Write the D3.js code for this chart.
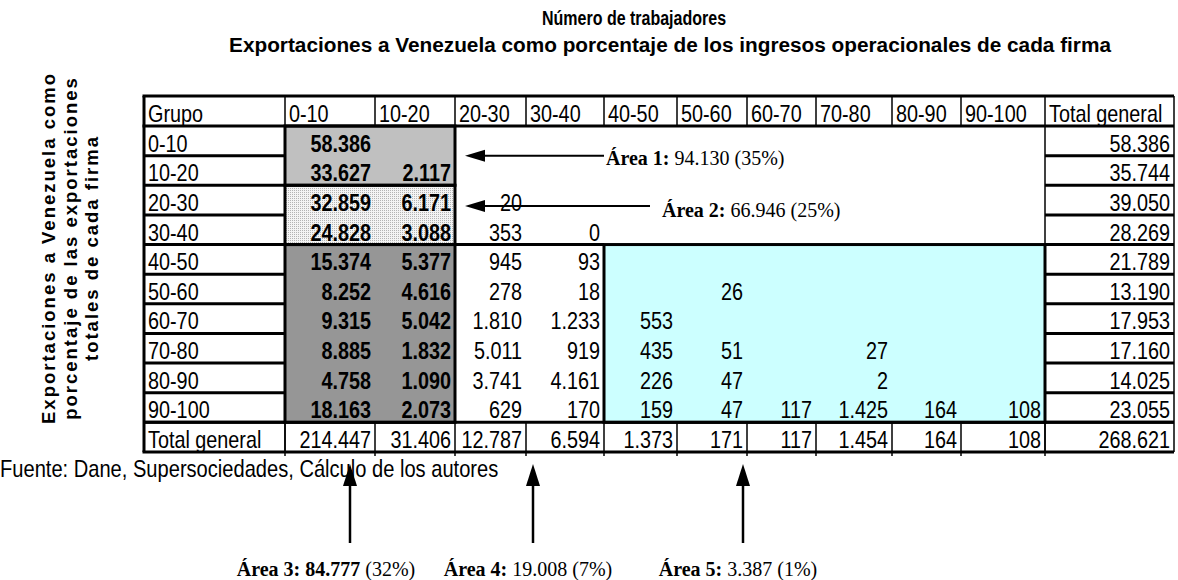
<!DOCTYPE html>
<meta charset="utf-8">
<title>Exportaciones a Venezuela - numero de trabajadores</title>
<style>
body {
  margin: 0px;
  background: #fff;
}
svg {
  display: block;
  background-color: #fff;
}
</style>
<script src="https://d3js.org/d3.v7.min.js"></script>
<body>
<script>
var rowGroups = ["0-10", "10-20", "20-30", "30-40", "40-50", "50-60", "60-70", "70-80", "80-90", "90-100"];
var colGroups = ["0-10", "10-20", "20-30", "30-40", "40-50", "50-60", "60-70", "70-80", "80-90", "90-100"];

// one list per row group, index = column group, null = empty cell
var cellValues = [
  [58386],
  [33627, 2117],
  [32859, 6171, 20],
  [24828, 3088, 353, 0],
  [15374, 5377, 945, 93],
  [8252, 4616, 278, 18, null, 26],
  [9315, 5042, 1810, 1233, 553],
  [8885, 1832, 5011, 919, 435, 51, null, 27],
  [4758, 1090, 3741, 4161, 226, 47, null, 2],
  [18163, 2073, 629, 170, 159, 47, 117, 1425, 164, 108]
];
var rowTotals = [58386, 35744, 39050, 28269, 21789, 13190, 17953, 17160, 14025, 23055];
var colTotals = [214447, 31406, 12787, 6594, 1373, 171, 117, 1454, 164, 108];
var grandTotal = 268621;

var titleLines = ["Número de trabajadores",
  "Exportaciones a Venezuela como porcentaje de los ingresos operacionales de cada firma"];
var sideLabel = ["Exportaciones a Venezuela como", "porcentaje de las exportaciones", "totales de cada firma"];
var sourceNote = "Fuente: Dane, Supersociedades, Cálculo de los autores";

// areas: first/last row group, first/last column group
var areas = [
  {name: "Área 1:", total: "94.130", share: "(35%)", rows: ["0-10", "10-20"], cols: ["0-10", "10-20"]},
  {name: "Área 2:", total: "66.946", share: "(25%)", rows: ["20-30", "30-40"], cols: ["0-10", "10-20"]},
  {name: "Área 3:", total: "84.777", share: "(32%)", rows: ["40-50", "90-100"], cols: ["0-10", "10-20"]},
  {name: "Área 4:", total: "19.008", share: "(7%)", rows: ["20-30", "90-100"], cols: ["20-30", "30-40"]},
  {name: "Área 5:", total: "3.387", share: "(1%)", rows: ["40-50", "90-100"], cols: ["40-50", "90-100"]}
];

// ---- drawing ----
var width = 1178, height = 580;
var svg = d3.select("body").append("svg")
    .attr("width", width)
    .attr("height", height);

var es = d3.formatLocale({decimal: ",", thousands: ".", grouping: [3], currency: ["", ""]});
var fmt = es.format(",d");

// column layout (excel column widths)
var allCols = ["Grupo"].concat(colGroups).concat(["Total"]);
var colWidths = [141, 90, 80, 71, 78, 73, 70, 69, 76, 69, 84, 129];
var tblLeft = 144;
var edges = [tblLeft];
colWidths.forEach(function(w, i) { edges.push(edges[i] + w); });
var xL = d3.scaleOrdinal().domain(allCols).range(edges.slice(0, -1));
var xR = d3.scaleOrdinal().domain(allCols).range(edges.slice(1));
var tblRight = edges[edges.length - 1];

var tblTop = 96, headBottom = 126, tblBottom = 452;
var y = d3.scaleBand()
    .domain(rowGroups.concat(["Total"]))
    .range([headBottom, tblBottom]);

var thick = 3, thin = 1.5;
var gFill = svg.append("g"), gLines = svg.append("g"), gText = svg.append("g"), gNote = svg.append("g");

// dotted fill for area 2
var pat = svg.append("defs").append("pattern")
    .attr("id", "dots").attr("width", 2).attr("height", 2)
    .attr("patternUnits", "userSpaceOnUse");
pat.append("rect").attr("width", 2).attr("height", 2).attr("fill", "#f4f4f4");
pat.append("rect").attr("width", 1).attr("height", 1).attr("fill", "#b4b4b4");

var areaFill = ["#c0c0c0", "url(#dots)", "#969696", "none", "#ccffff"];
var boxed = [true, true, true, false, true];

function areaRect(a) {
  return {
    x0: xL(a.cols[0]), x1: xR(a.cols[a.cols.length - 1]),
    y0: y(a.rows[0]), y1: y(a.rows[a.rows.length - 1]) + y.bandwidth()
  };
}

areas.forEach(function(a, i) {
  var r = areaRect(a);
  if (areaFill[i] !== "none") {
    gFill.append("rect")
      .attr("x", r.x0).attr("y", r.y0)
      .attr("width", r.x1 - r.x0).attr("height", r.y1 - r.y0)
      .attr("fill", areaFill[i]);
  }
});

function hline(x0, x1, yy, w) {
  gLines.append("line").attr("x1", x0).attr("x2", x1).attr("y1", yy).attr("y2", yy)
    .attr("stroke", "#000").attr("stroke-width", w);
}
function vline(xx, y0, y1, w) {
  gLines.append("line").attr("x1", xx).attr("x2", xx).attr("y1", y0).attr("y2", y1)
    .attr("stroke", "#000").attr("stroke-width", w);
}

// header cells
edges.slice(1, -1).forEach(function(e) { vline(e, tblTop, headBottom, thin); });
// grupo and total columns: a box per row
rowGroups.forEach(function(r) {
  hline(tblLeft, xR("Grupo"), y(r) + y.bandwidth(), thick);
  hline(xL("Total"), tblRight, y(r) + y.bandwidth(), thick);
});
vline(xR("Grupo"), headBottom, tblBottom, thin);
vline(xL("Total"), headBottom, tblBottom, thin);
// total row cells
edges.slice(1, -1).forEach(function(e) { vline(e, y("Total"), tblBottom + 4, thin); });
hline(tblLeft, tblRight, y("Total"), thick);
// line under area 4 top block
hline(xL("20-30"), xR("30-40"), y("40-50"), thick);
// outer frame
hline(tblLeft - 1.5, tblRight, tblTop, thick);
hline(tblLeft - 1.5, tblRight, headBottom, thick);
hline(tblLeft - 1.5, tblRight, tblBottom, thick);
vline(tblLeft, tblTop, tblBottom, thick);
vline(tblRight, tblTop, tblBottom, thin);

// area boxes
areas.forEach(function(a, i) {
  if (!boxed[i]) return;
  var r = areaRect(a);
  gLines.append("rect")
    .attr("x", r.x0).attr("y", r.y0)
    .attr("width", r.x1 - r.x0).attr("height", r.y1 - r.y0)
    .attr("fill", "none").attr("stroke", "#000").attr("stroke-width", thick);
});

// narrow text (Arial Narrow look)
function ntext(x, yy, str, anchor, bold) {
  return gText.append("text")
    .attr("transform", "translate(" + x + "," + yy + ") scale(0.825,1)")
    .attr("text-anchor", anchor)
    .attr("font-family", "'Liberation Sans', Arial, sans-serif")
    .attr("font-size", 24)
    .attr("font-weight", bold ? "bold" : "normal")
    .attr("fill", "#000")
    .text(str);
}
var pad = 4, base = 4;

// header
ntext(xL("Grupo") + pad, headBottom - base, "Grupo", "start");
colGroups.forEach(function(c) { ntext(xL(c) + pad, headBottom - base, c, "start"); });
ntext(xL("Total") + pad, headBottom - base, "Total general", "start");

// body
var boldCols = ["0-10", "10-20"];
rowGroups.forEach(function(r, i) {
  var yb = y(r) + y.bandwidth() - base;
  ntext(xL("Grupo") + pad, yb, r, "start");
  cellValues[i].forEach(function(v, j) {
    if (v === null || v === undefined) return;
    var c = colGroups[j];
    ntext(xR(c) - pad, yb, fmt(v), "end", boldCols.indexOf(c) >= 0);
  });
  ntext(tblRight - pad, yb, fmt(rowTotals[i]), "end");
});
var yt = y("Total") + y.bandwidth() - base;
ntext(xL("Grupo") + pad, yt, "Total general", "start");
colTotals.forEach(function(v, j) { ntext(xR(colGroups[j]) - pad, yt, fmt(v), "end"); });
ntext(tblRight - pad, yt, fmt(grandTotal), "end");

// titles
[[634, 25, 20, 0.8], [670, 52, 21, 0.99]].forEach(function(p, i) {
  svg.append("text")
    .attr("transform", "translate(" + p[0] + "," + p[1] + ") scale(" + p[3] + ",1)")
    .attr("text-anchor", "middle")
    .attr("font-family", "'Liberation Sans', Arial, sans-serif")
    .attr("font-size", p[2]).attr("font-weight", "bold")
    .text(titleLines[i]);
});

// rotated side label
[55, 77, 98].forEach(function(xx, i) {
  svg.append("text")
    .attr("transform", "translate(" + xx + ",248) rotate(-90)")
    .attr("text-anchor", "middle")
    .attr("font-family", "'Liberation Sans', Arial, sans-serif")
    .attr("font-size", 18.5).attr("font-weight", "bold")
    .attr("letter-spacing", 2)
    .text(sideLabel[i]);
});

// source
svg.append("text")
  .attr("transform", "translate(0,477) scale(0.838,1)")
  .attr("font-family", "'Liberation Sans', Arial, sans-serif")
  .attr("font-size", 24)
  .text(sourceNote);

// annotations
function arrowHead(g, tipX, tipY, dir) {
  // dir: "left" or "up"
  var p = dir === "left"
    ? [[tipX, tipY], [tipX + 20, tipY - 6], [tipX + 20, tipY + 6]]
    : [[tipX, tipY], [tipX - 7, tipY + 22], [tipX + 7, tipY + 22]];
  g.append("path").attr("d", d3.line()(p) + "Z").attr("fill", "#000");
}
function areaLabel(x, yy, a, anchor, boldTotal) {
  var t = gNote.append("text")
    .attr("x", x).attr("y", yy)
    .attr("text-anchor", anchor)
    .attr("font-family", "'Liberation Serif', 'Times New Roman', serif")
    .attr("font-size", 20);
  t.append("tspan").attr("font-weight", "bold").text(a.name + " ");
  t.append("tspan").attr("font-weight", boldTotal ? "bold" : "normal").text(a.total);
  t.append("tspan").text(" " + a.share);
}

// area 1 and 2: horizontal arrows pointing at the boxes
var tipX = xR("10-20") + 10;
var a1y = y("10-20"), a2y = y("20-30") + y.bandwidth() * 0.7;
gNote.append("line").attr("x1", tipX + 15).attr("x2", 604).attr("y1", a1y).attr("y2", a1y)
  .attr("stroke", "#000").attr("stroke-width", 2);
arrowHead(gNote, tipX, a1y, "left");
areaLabel(606, a1y + 9, areas[0], "start", false);
gNote.append("line").attr("x1", tipX + 15).attr("x2", 650).attr("y1", a2y).attr("y2", a2y)
  .attr("stroke", "#000").attr("stroke-width", 2);
arrowHead(gNote, tipX, a2y, "left");
areaLabel(662, a2y + 11, areas[1], "start", false);

// areas 3-5: vertical arrows from below
var bottomArrows = [
  {x: 350, labelX: 326, area: areas[2], boldTotal: true},
  {x: xR("20-30") + 7, labelX: 528, area: areas[3], boldTotal: false},
  {x: xL("60-70") - 4, labelX: 738, area: areas[4], boldTotal: false}
];
bottomArrows.forEach(function(b) {
  gNote.append("line").attr("x1", b.x).attr("x2", b.x).attr("y1", 480).attr("y2", 543)
    .attr("stroke", "#000").attr("stroke-width", 2.5);
  arrowHead(gNote, b.x, 464, "up");
  areaLabel(b.labelX, 576, b.area, "middle", b.boldTotal);
});
</script>
